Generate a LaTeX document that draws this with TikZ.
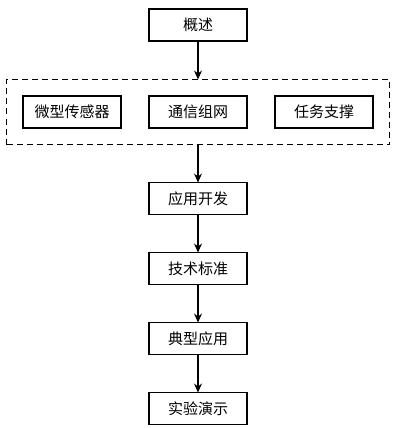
\documentclass[tikz,border=0pt]{standalone}
\usepackage{fontspec}
\setmainfont{Noto Sans CJK SC}
\usetikzlibrary{positioning, arrows.meta, fit}

\begin{document}
\begin{tikzpicture}[
  x=1pt, y=1pt,
  font=\fontsize{15}{18}\selectfont,
  box/.style={draw, line width=1.1pt, minimum height=32pt, minimum width=98pt, inner sep=0pt, outer sep=0pt, align=center},
  frame/.style={draw, dashed, dash pattern=on 6pt off 4pt, line width=1.1pt, inner sep=16.5pt, outer sep=0pt},
  arr/.style={-{Stealth[length=9pt, width=8pt]}, line width=1.1pt},
]
  \useasboundingbox (0,0) rectangle (393,-428);
  \node[box] (gs) at (198,-25) {概述};
  \node[box, below=55pt of gs]    (txzw) {通信组网};
  \node[box, left=28pt of txzw]   (cgq)  {微型传感器};
  \node[box, right=28pt of txzw]  (rwzc) {任务支撑};
  \node[frame, fit=(cgq)(rwzc)]   (wl)   {};
  \node[box, below=38pt of wl]    (yykf) {应用开发};
  \node[box, below=38pt of yykf]  (jsbz) {技术标准};
  \node[box, below=38pt of jsbz]  (dxyy) {典型应用};
  \node[box, below=38pt of dxyy]  (sys)  {实验演示};
  \draw[arr] (gs) -- (wl);
  \draw[arr] (wl) -- (yykf);
  \draw[arr] (yykf) -- (jsbz);
  \draw[arr] (jsbz) -- (dxyy);
  \draw[arr] (dxyy) -- (sys);
\end{tikzpicture}
\end{document}
